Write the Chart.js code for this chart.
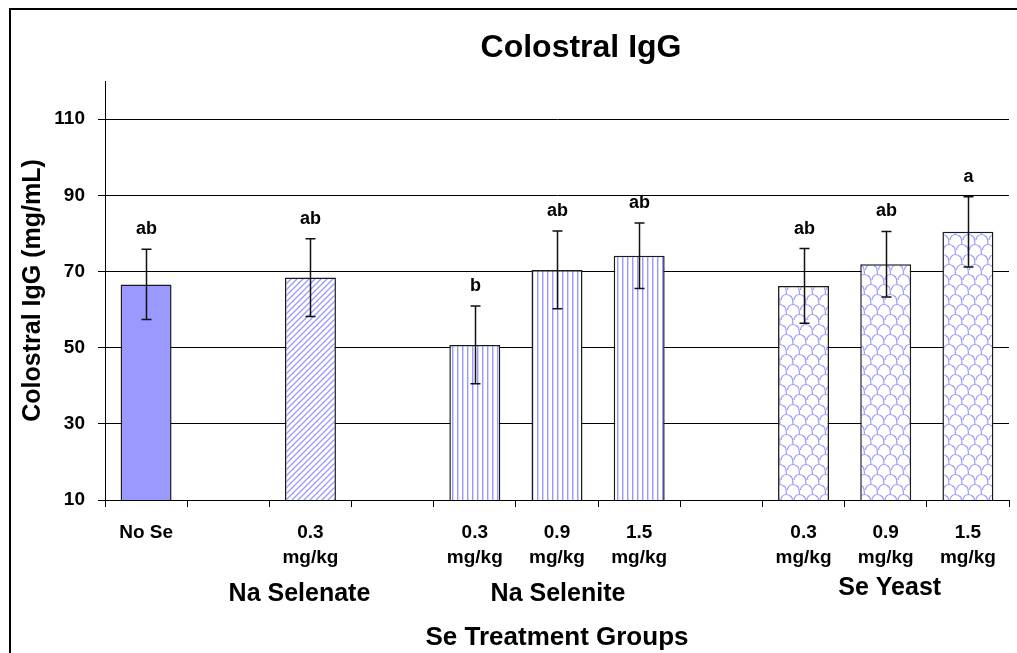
<!DOCTYPE html>
<html>
<head>
<meta charset="utf-8">
<script src="https://cdn.jsdelivr.net/npm/chart.js@4.4.1/dist/chart.umd.min.js"></script>
<style>
  html, body { margin: 0; padding: 0; background: #fff; }
  #wrap { position: relative; width: 1017px; height: 653px; }
</style>
</head>
<body>
<div id="wrap">
  <canvas id="chart" width="1017" height="653" role="img" aria-label="Bar chart of colostral IgG by Se treatment group"></canvas>
</div>
<script>
// categories (blank slots are the gaps between groups)
const categories = ['No Se', '', ['0.3', 'mg/kg'], '', ['0.3', 'mg/kg'], ['0.9', 'mg/kg'], ['1.5', 'mg/kg'], '', ['0.3', 'mg/kg'], ['0.9', 'mg/kg'], ['1.5', 'mg/kg']];
const treatment  = ['none', '', 'selenate', '', 'selenite', 'selenite', 'selenite', '', 'yeast', 'yeast', 'yeast'];
const igg        = [66.6, null, 68.4, null, 50.7, 70.4, 74.1, null, 66.2, 71.9, 80.4];
const sem        = [9.2, null, 10.2, null, 10.2, 10.2, 8.6, null, 9.8, 8.6, 9.2];
const letters    = ['ab', '', 'ab', '', 'b', 'ab', 'ab', '', 'ab', 'ab', 'a'];
const groups     = ['Na Selenate', 'Na Selenite', 'Se Yeast'];
const groupSlot  = [2, 5, 9];
const yTicks     = [10, 30, 50, 70, 90, 110];

const FONT = '"Liberation Sans", Arial, Helvetica, sans-serif';
const BLUE = '#9999ff';

function makePattern(w, h, draw) {
  const c = document.createElement('canvas');
  c.width = w; c.height = h;
  const g = c.getContext('2d');
  g.fillStyle = '#fff';
  g.fillRect(0, 0, w, h);
  draw(g);
  return g.createPattern(c, 'repeat');
}

const diagonal = makePattern(6, 6, g => {
  g.strokeStyle = BLUE; g.lineWidth = 1.3;
  g.beginPath();
  g.moveTo(-1, 7); g.lineTo(7, -1);
  g.moveTo(-1, 1); g.lineTo(1, -1);
  g.moveTo(5, 7); g.lineTo(7, 5);
  g.stroke();
});

const vertical = makePattern(5, 4, g => {
  g.fillStyle = BLUE; g.fillRect(2, 0, 1, 4);
  g.fillStyle = '#d4d4ff'; g.fillRect(3, 0, 1, 4);
});

// hook-shaped weave, rows offset by half a cell
const weave = makePattern(13, 20, g => {
  g.strokeStyle = BLUE; g.lineWidth = 1.2;
  [[0, 10], [13, 10], [6.5, 0], [6.5, 20], [-6.5, 0], [19.5, 0], [-6.5, 20], [19.5, 20]].forEach(([cx, cy]) => {
    g.beginPath();
    g.arc(cx, cy, 5.5, Math.PI, Math.PI * 1.8);
    g.stroke();
    g.beginPath();
    g.moveTo(cx + 3.5, cy - 4.3);
    g.bezierCurveTo(cx + 7, cy - 3, cx + 6, cy + 2, cx + 6.5, cy + 4);
    g.stroke();
  });
});

const fills = { none: BLUE, selenate: diagonal, selenite: vertical, yeast: weave };

const frame = {
  id: 'frame',
  beforeDraw(chart) {
    const ctx = chart.ctx;
    ctx.save();
    ctx.fillStyle = '#fff';
    ctx.fillRect(0, 0, chart.width, chart.height);
    ctx.strokeStyle = '#000';
    ctx.lineWidth = 2;
    ctx.strokeRect(10, 9, 2000, 2000);
    ctx.restore();
  }
};

const errorBars = {
  id: 'errorBars',
  afterDatasetsDraw(chart) {
    const { ctx, scales: { y } } = chart;
    const meta = chart.getDatasetMeta(0);
    ctx.save();
    ctx.strokeStyle = '#111';
    ctx.lineWidth = 1.5;
    ctx.fillStyle = '#000';
    ctx.font = 'bold 18px ' + FONT;
    ctx.textAlign = 'center';
    ctx.textBaseline = 'alphabetic';
    meta.data.forEach((bar, i) => {
      if (igg[i] == null) return;
      const x = Math.round(bar.x) + 0.5;
      const hi = y.getPixelForValue(igg[i] + sem[i]);
      const lo = y.getPixelForValue(igg[i] - sem[i]);
      ctx.beginPath();
      ctx.moveTo(x, hi); ctx.lineTo(x, lo);
      ctx.moveTo(x - 5, hi); ctx.lineTo(x + 5, hi);
      ctx.moveTo(x - 5, lo); ctx.lineTo(x + 5, lo);
      ctx.stroke();
      ctx.fillText(letters[i], x, hi - 15);
    });
    ctx.restore();
  }
};

// small horizontal nudges so the group names sit where the original put them
const groupNudge = [-11, 1, 4];

const labels = {
  id: 'labels',
  afterDraw(chart) {
    const { ctx, scales: { x }, chartArea } = chart;
    ctx.save();
    ctx.fillStyle = '#000';
    ctx.textAlign = 'center';
    ctx.textBaseline = 'alphabetic';

    ctx.font = 'bold 32px ' + FONT;
    ctx.fillText('Colostral IgG', 581, 57);

    ctx.font = 'bold 25px ' + FONT;
    groups.forEach((g, i) => {
      ctx.fillText(g, x.getPixelForValue(groupSlot[i]) + groupNudge[i], i === 2 ? 595 : 601);
    });

    ctx.font = 'bold 26px ' + FONT;
    ctx.fillText('Se Treatment Groups', (chartArea.left + chartArea.right) / 2, 645);

    ctx.translate(40, (chartArea.top + chartArea.bottom) / 2);
    ctx.rotate(-Math.PI / 2);
    ctx.font = 'bold 25px ' + FONT;
    ctx.fillText('Colostral IgG (mg/mL)', 0, 0);
    ctx.restore();
  }
};

new Chart(document.getElementById('chart'), {
  type: 'bar',
  data: {
    labels: categories,
    datasets: [{
      data: igg,
      backgroundColor: treatment.map(t => fills[t] || 'transparent'),
      borderColor: '#1a1a1a',
      borderWidth: 1.5,
      borderSkipped: false,
      barPercentage: 0.62,
      categoryPercentage: 1
    }]
  },
  options: {
    responsive: false,
    animation: false,
    events: [],
    layout: { padding: { left: 0, top: 81, right: 8, bottom: 0 } },
    plugins: { legend: { display: false }, tooltip: { enabled: false }, title: { display: false } },
    scales: {
      x: {
        afterFit(scale) { scale.height = 153; },
        border: { color: '#000', width: 1 },
        grid: { drawOnChartArea: false, drawTicks: true, tickLength: 7, color: '#000', offset: true },
        ticks: {
          color: '#000',
          padding: 13,
          maxRotation: 0,
          autoSkip: false,
          font: { family: FONT, size: 19, weight: 'bold', lineHeight: '25px' }
        }
      },
      y: {
        min: 10,
        max: 120,
        afterFit(scale) { scale.width = 105; },
        afterBuildTicks(scale) { scale.ticks = yTicks.map(v => ({ value: v })); },
        border: { color: '#000', width: 1 },
        grid: { color: '#000', lineWidth: 1, drawTicks: true, tickLength: 7 },
        ticks: {
          color: '#000',
          padding: 13,
          font: { family: FONT, size: 19, weight: 'bold' }
        }
      }
    }
  },
  plugins: [frame, errorBars, labels]
});
</script>
</body>
</html>
